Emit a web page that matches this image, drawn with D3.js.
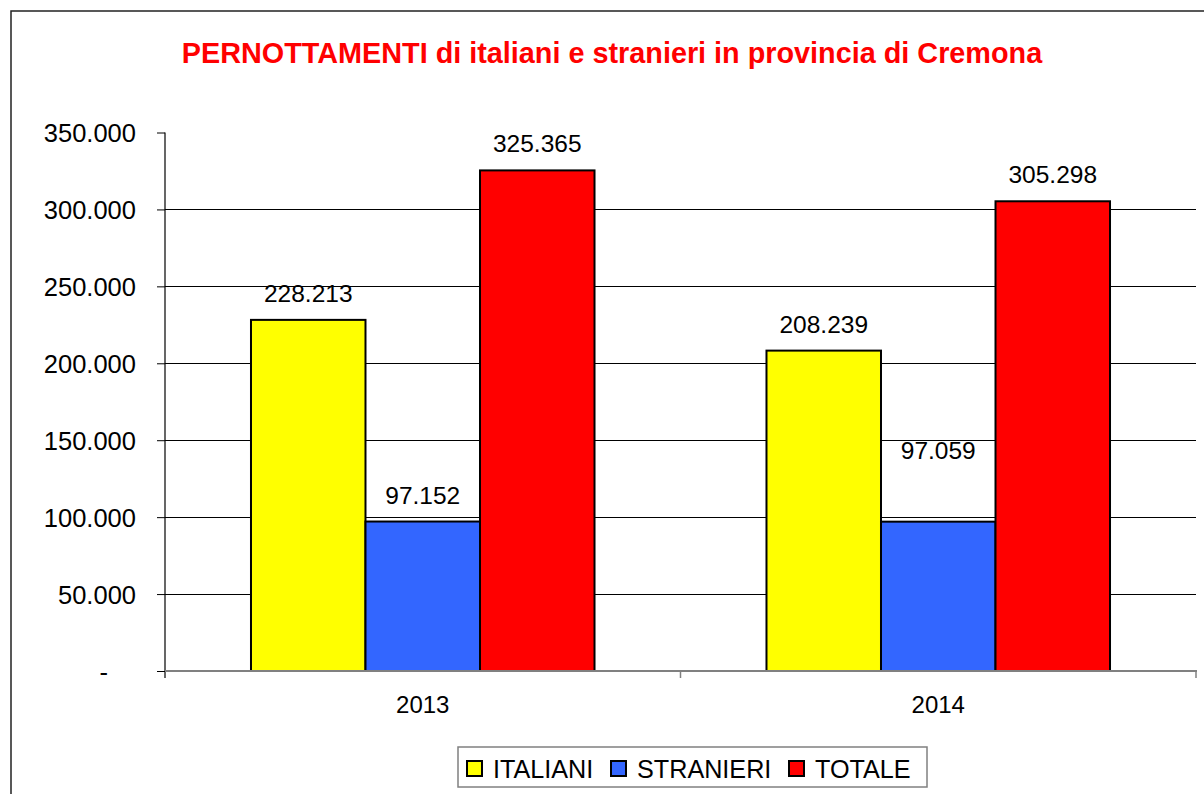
<!DOCTYPE html>
<html>
<head>
<meta charset="utf-8">
<script src="https://cdn.jsdelivr.net/npm/d3@7"></script>
<style>
  html, body { margin: 0; padding: 0; background: #fff; }
  svg { display: block; }
  text { font-family: "Liberation Sans", Arial, sans-serif; }
</style>
</head>
<body>
<svg id="chart" width="1204" height="794"></svg>
<script>
const title = "PERNOTTAMENTI di italiani e stranieri in provincia di Cremona";
const years = ["2013", "2014"];
const seriesNames = ["ITALIANI", "STRANIERI", "TOTALE"];
const italiani = [228213, 208239];
const stranieri = [97152, 97059];
const totale = [325365, 305298];
const yTicks = [0, 50000, 100000, 150000, 200000, 250000, 300000, 350000];
const colors = ["#FFFF00", "#3366FF", "#FF0000"];

(function () {
const seriesValues = [italiani, stranieri, totale];
const fmt = v => v === 0 ? "-" : d3.format(",")(v).replace(/,/g, ".");

const svg = d3.select("#chart");
const pLeft = 165, pRight = 1196, pTop = 132.5, pBottom = 671;

// outer frame
svg.append("rect").attr("x", 11).attr("y", 11).attr("width", 1210).attr("height", 800)
  .attr("fill", "#fff").attr("stroke", "#222").attr("stroke-width", 1.5);

// title
svg.append("text").attr("x", 612).attr("y", 62.5).attr("text-anchor", "middle")
  .attr("fill", "#FF0000").attr("font-weight", "bold").attr("font-size", 28.8)
  .text(title);

const y = d3.scaleLinear().domain([0, 350000]).range([pBottom, pTop]);
const x0 = d3.scaleBand().domain(years).range([pLeft, pRight]);
const bw = x0.bandwidth();
const x1 = d3.scaleBand().domain(seriesNames).range([bw * 0.1668, bw * 0.8332]);

// gridlines
svg.append("g").selectAll("line").data(yTicks.filter(t => t > 0 && t < 350000)).join("line")
  .attr("x1", pLeft).attr("x2", pRight)
  .attr("y1", d => Math.round(y(d)) + 0.5).attr("y2", d => Math.round(y(d)) + 0.5)
  .attr("stroke", "#000").attr("stroke-width", 1);

// y axis
const yAxis = d3.axisLeft(y).tickValues(yTicks).tickFormat(fmt).tickSize(8).tickPadding(21);
const gy = svg.append("g").attr("transform", `translate(${pLeft},0)`).call(yAxis);
gy.select(".domain").remove();
gy.selectAll(".tick line").attr("stroke", "#000");
gy.selectAll(".tick text").attr("font-size", 25.5).attr("fill", "#000")
  .attr("font-family", "'Liberation Sans', Arial, sans-serif").attr("dy", "0.36em")
  .attr("dx", d => d === 0 ? -28 : 0);
svg.append("line").attr("x1", pLeft).attr("x2", pLeft).attr("y1", pTop).attr("y2", pBottom + 7)
  .attr("stroke", "#000").attr("stroke-width", 1.2);

// bars
const groups = svg.append("g").selectAll("g").data(years).join("g")
  .attr("transform", d => `translate(${x0(d)},0)`);
groups.selectAll("rect")
  .data((d, i) => seriesNames.map((s, j) => ({ s, j, v: seriesValues[j][i], i })))
  .join("rect")
  .attr("x", d => x1(d.s)).attr("width", x1.bandwidth())
  .attr("y", d => y(d.v)).attr("height", d => y(0) - y(d.v))
  .attr("fill", d => colors[d.j]).attr("stroke", "#000").attr("stroke-width", 2);

// x axis (gray)
svg.append("line").attr("x1", pLeft).attr("x2", pRight + 1).attr("y1", pBottom).attr("y2", pBottom)
  .attr("stroke", "#808080").attr("stroke-width", 2);
const xBounds = [pLeft + bw, pRight];
svg.append("g").selectAll("line").data(xBounds).join("line")
  .attr("x1", d => d).attr("x2", d => d).attr("y1", pBottom).attr("y2", pBottom + 7)
  .attr("stroke", "#808080").attr("stroke-width", 1.5);
svg.append("g").selectAll("text").data(years).join("text")
  .attr("x", d => x0(d) + bw / 2).attr("y", 713).attr("text-anchor", "middle")
  .attr("font-size", 24).attr("fill", "#000").text(d => d);

// value labels (Excel moved the 2014 STRANIERI label upward)
const labelLift = (d) => (d.i === 1 && d.j === 1) ? 63 : 18;
groups.selectAll("text.val")
  .data((d, i) => seriesNames.map((s, j) => ({ s, j, v: seriesValues[j][i], i })))
  .join("text").attr("class", "val")
  .attr("x", d => x1(d.s) + x1.bandwidth() / 2)
  .attr("y", d => y(d.v) - labelLift(d))
  .attr("text-anchor", "middle").attr("font-size", 24.5).attr("fill", "#000")
  .text(d => fmt(d.v));

// legend
const lg = svg.append("g");
lg.append("rect").attr("x", 458).attr("y", 747).attr("width", 469).attr("height", 40)
  .attr("fill", "#fff").attr("stroke", "#808080").attr("stroke-width", 1.5);
const legendX = [467, 611, 789];
seriesNames.forEach((s, j) => {
  lg.append("rect").attr("x", legendX[j]).attr("y", 761).attr("width", 15).attr("height", 15)
    .attr("fill", colors[j]).attr("stroke", "#000").attr("stroke-width", 2);
  lg.append("text").attr("x", legendX[j] + 26).attr("y", 777.5)
    .attr("font-size", 25.2).attr("fill", "#000").text(s);
});
})();
</script>
</body>
</html>
